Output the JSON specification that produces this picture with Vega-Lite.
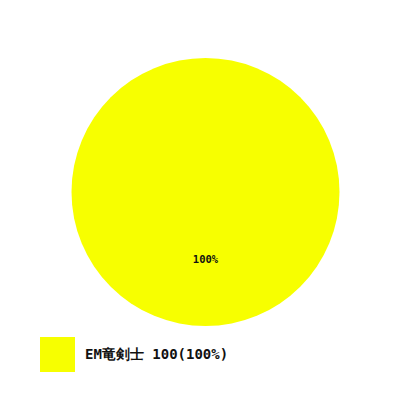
{
  "$schema": "https://vega.github.io/schema/vega-lite/v6.json",
  "width": 411,
  "height": 384,
  "autosize": "none",
  "padding": 0,
  "background": "white",
  "data": {
    "values": [
      {"name": "EM竜剣士", "count": 100}
    ]
  },
  "transform": [
    {"joinaggregate": [{"op": "sum", "field": "count", "as": "total"}]},
    {"calculate": "datum.count / datum.total", "as": "pct"},
    {"calculate": "datum.name + ' ' + datum.count + '(' + format(datum.pct, '.0%') + ')'", "as": "legend_label"}
  ],
  "encoding": {
    "theta": {"field": "count", "type": "quantitative", "stack": true},
    "color": {
      "field": "legend_label",
      "type": "nominal",
      "scale": {"range": ["#f7ff00"]},
      "legend": {
        "title": null,
        "orient": "none",
        "legendX": 40,
        "legendY": 337,
        "symbolType": "square",
        "symbolSize": 1225,
        "symbolStrokeWidth": 0,
        "symbolOpacity": 1,
        "labelFont": "DejaVu Sans Mono",
        "labelFontWeight": "bold",
        "labelFontSize": 14,
        "labelColor": "#111",
        "labelOffset": 10,
        "labelLimit": 0
      }
    }
  },
  "layer": [
    {"mark": {"type": "arc", "outerRadius": 134, "stroke": null}},
    {
      "mark": {"type": "text", "radius": 68, "font": "DejaVu Sans Mono", "fontWeight": "bold", "fontSize": 10.5, "color": "#111"},
      "encoding": {
        "text": {"field": "pct", "type": "quantitative", "format": ".0%"},
        "color": {"value": "#111"}
      }
    }
  ],
  "config": {"view": {"stroke": null}}
}
